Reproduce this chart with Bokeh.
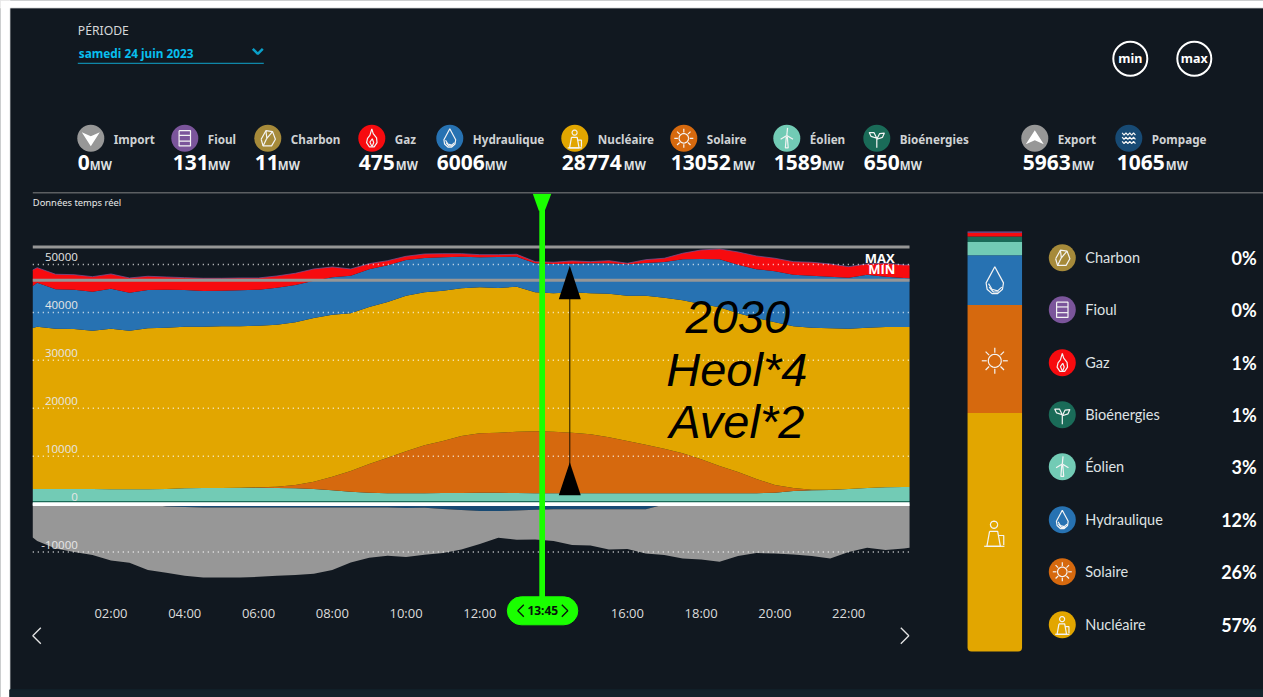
import math
import numpy as np
from bokeh.plotting import figure
from bokeh.models import Range1d, FixedTicker
from bokeh.core.properties import value
from bokeh.embed import file_html
from bokeh.resources import INLINE

# ---------- data (MW) ----------
hours = [-0.12, 0, 0.5, 1, 1.5, 2, 2.5, 3, 3.5, 4, 4.5, 5, 5.5, 6, 6.5, 7, 7.5, 8, 8.5, 9, 9.5, 10, 10.5, 11, 11.5,
         12, 12.5, 13, 13.5, 14, 14.5, 15, 15.5, 16, 16.5, 17, 17.5, 18, 18.5, 19, 19.5, 20, 20.5, 21, 21.5, 22,
         22.5, 23, 23.5, 23.65]
bio = [650] * 50
eolien = [2504, 2504, 2504, 2504, 2504, 2442, 2442, 2442, 2504, 2650, 2713, 2734, 2776, 2776, 2713, 2650, 2504, 2233,
          1941, 1732, 1607, 1607, 1607, 1670, 1670, 1732, 1711, 1670, 1607, 1607, 1607, 1607, 1607, 1607, 1607, 1607,
          1607, 1607, 1607, 1607, 1607, 1732, 2087, 2233, 2296, 2504, 2713, 2859, 2922, 2922]
solaire = [0, 0, 0, 0, 0, 0, 0, 0, 0, 0, 0, 0, 0, 83, 271, 689, 1524, 2838, 4320, 5990, 7430, 8765, 10018, 10852, 11896,
           12397, 12543, 12793, 12939, 12856, 12647, 12313, 11687, 10915, 10143, 9308, 8348, 7096, 5698, 4445, 2984,
           1607, 626, 125, 42, 0, 0, 0, 0, 0]
nucleaire = [33601, 33872, 33455, 33392, 33037, 33517, 33100, 33601, 33663, 33726, 33663, 33726, 33684, 33726, 33809,
             33955, 34164, 33809, 32912, 32766, 32495, 32474, 31931, 31368, 30825, 30470, 30199, 30262, 29009, 28884,
             29301, 29427, 29969, 30324, 31096, 31514, 31931, 32411, 33121, 33121, 33601, 33955, 33747, 33809, 33705,
             33455, 33455, 33455, 33392, 33392]
hydraulique = [8765, 9183, 8223, 8202, 8139, 8348, 7931, 7993, 7931, 7659, 7451, 7430, 7513, 7513, 7722, 7785, 7785,
               7805, 7847, 7868, 7659, 7451, 7158, 6971, 6595, 6261, 6470, 6261, 6052, 6115, 5969, 6261, 6344, 6553,
               6825, 7451, 8557, 9392, 10018, 10143, 10164, 10644, 10769, 10852, 10769, 10644, 11061, 10498, 10226, 10164]
gaz = [3339, 3131, 3131, 3131, 3131, 3068, 3068, 2859, 2650, 2567, 2650, 2588, 2567, 2442, 2442, 2442, 2442, 2150, 1398,
       1169, 960, 772, 835, 751, 626, 543, 480, 501, 334, 355, 563, 334, 543, 209, 689, 772, 1252, 1878, 2150, 2650,
       2776, 2713, 2713, 2797, 2650, 2296, 2233, 2797, 2713, 2776]
pompage = [0, 0, 0, 0, 0, 0, 0, 0, 500, 600, 700, 700, 700, 700, 700, 700, 700, 700, 700, 700, 700, 800, 770, 1040, 1250,
           1460, 1460, 1320, 1190, 1100, 1100, 1100, 1100, 1100, 1100, 100, 0, 0, 0, 0, 0, 0, 0, 0, 0, 0, 0, 0, 0, 0]
export = [6950, 7722, 9245, 10018, 10644, 11750, 12251, 13774, 13838, 14364, 14598, 14598, 14598, 14472, 14264, 14118,
          13846, 13074, 11467, 10507, 10090, 10261, 9811, 9186, 8204, 6888, 5573, 6131, 6177, 6622, 7457, 7519, 8354,
          8292, 9189, 10544, 11332, 11541, 12042, 10852, 10226, 10289, 10498, 10852, 11332, 10018, 9120, 9600, 9245, 9120]

x_ticks = [2, 4, 6, 8, 10, 12, 16, 18, 20, 22]
x_tick_labels = {t: f"{t:02d}:00" for t in x_ticks}
y_ticks = [50000, 40000, 30000, 20000, 10000, 0, -10000]
y_max_line = 53630
y_min_line = 46700
cursor_hour = 13.69

header_names = ["Import", "Fioul", "Charbon", "Gaz", "Hydraulique", "Nucléaire", "Solaire", "Éolien", "Bioénergies", "Export", "Pompage"]
header_values = [0, 131, 11, 475, 6006, 28774, 13052, 1589, 650, 5963, 1065]

mix_names = ["Nucléaire", "Solaire", "Hydraulique", "Éolien", "Bioénergies", "Gaz", "Fioul", "Charbon"]
mix_values = [28774, 13052, 6006, 1589, 650, 475, 131, 11]

legend_names = ["Charbon", "Fioul", "Gaz", "Bioénergies", "Éolien", "Hydraulique", "Solaire", "Nucléaire"]
legend_pct = ["0%", "0%", "1%", "1%", "3%", "12%", "26%", "57%"]

# ---------- style ----------
BG = "#111820"
COL = {"Import": "#979797", "Fioul": "#7b559b", "Charbon": "#a68a3a", "Gaz": "#f70b0f", "Hydraulique": "#2772b2",
       "Nucléaire": "#e2a600", "Solaire": "#d6690e", "Éolien": "#72cbb5", "Bioénergies": "#1a6b58",
       "Export": "#979797", "Pompage": "#174a74"}
GREEN = "#1aff00"
W, H = 1263, 697
HEAD_X = [91, 185, 268, 372, 450, 575, 684, 787, 877, 1035, 1129]
NUM_X = [78, 173, 255, 359, 437, 562, 671, 774, 864, 1023, 1117]
MW_X = [90, 208, 278, 396, 485, 624, 733, 822, 900, 1072, 1166]
LEG_Y = [258, 310, 363, 415, 467, 520, 572, 625]

# pixel <-> scale calibration
px_h, x0_px = 36.885, 36.7
px_mw, y0_px = 0.004792, 503.6
mix_px = 420 / sum(mix_values)
dx, dy = 0.7, 0.7

p = figure(width=W, height=H, output_backend="svg", toolbar_location=None, min_border=0,
           x_range=Range1d((0 - x0_px) / px_h, (W - x0_px) / px_h),
           y_range=Range1d((y0_px - H) / px_mw, y0_px / px_mw),
           y_axis_location=None, outline_line_color=None, background_fill_color=BG, border_fill_color=BG)
p.grid.visible = False
p.extra_x_ranges["px"] = Range1d(dx, W + dx)
p.extra_y_ranges["px"] = Range1d(H + dy, dy)
p.extra_y_ranges["mix"] = Range1d((651 - H) / mix_px, 651 / mix_px)
PX = dict(x_range_name="px", y_range_name="px")

# x axis, real, fixed inside the frame
ax = p.xaxis[0]
ax.fixed_location = (y0_px - 595) / px_mw
ax.ticker = FixedTicker(ticks=x_ticks)
ax.major_label_overrides = x_tick_labels
ax.axis_line_color = None
ax.major_tick_line_color = None
ax.minor_tick_line_color = None
ax.major_label_standoff = 2
ax.major_label_text_color = "#dcdcdc"
ax.major_label_text_font = "Open Sans"
ax.major_label_text_font_size = "13px"

# screenshot edges: white margin top/left, bottom band
p.quad(left=[0, 0], right=[W + 2, 10], top=[0, 0], bottom=[8, H + 2], color="#ffffff", **PX)
p.quad(left=[10], right=[W + 2], top=[690], bottom=[H + 2], color="#13232b", **PX)

# ---------- stacked areas ----------
base = np.zeros(len(hours))
for name, vals in [("Bioénergies", bio), ("Éolien", eolien), ("Solaire", solaire), ("Nucléaire", nucleaire),
                   ("Hydraulique", hydraulique), ("Gaz", gaz)]:
    top = base + np.array(vals, float)
    p.varea(x=hours, y1=base, y2=top, fill_color=COL[name])
    base = top
p.line(x=hours, y=base, line_color="#7b559b", line_width=1, line_alpha=0.7)
neg = -np.array(pompage, float)
p.varea(x=hours, y1=np.zeros(len(hours)), y2=neg, fill_color=COL["Pompage"])
p.varea(x=hours, y1=neg, y2=neg - np.array(export, float), fill_color=COL["Export"])

# grid of dotted lines
p.segment(x0=[hours[0]] * len(y_ticks), x1=[hours[-1]] * len(y_ticks), y0=y_ticks, y1=y_ticks,
          line_color="#ffffff", line_alpha=0.85, line_width=1.5, line_dash="1 4")
p.segment(x0=[hours[0]], x1=[hours[-1]], y0=[0], y1=[0], line_color="#ffffff", line_width=3.6)
p.segment(x0=[hours[0]] * 2, x1=[hours[-1]] * 2, y0=[y_max_line, y_min_line], y1=[y_max_line, y_min_line],
          line_color="#969696", line_width=3)
p.text(x=[78] * len(y_ticks), y=y_ticks, text=[str(t) for t in y_ticks], x_range_name="px",
       text_align="right", text_baseline="middle", y_offset=-7.5, text_color="#e6e6e6",
       text_font=value("Open Sans"), text_font_size="11.5px")
p.text(x=[880, 882], y=[258, 269.5], text=["MAX", "MIN"], text_align="center", text_baseline="middle",
       text_color="#ffffff", text_font=value("Open Sans"), text_font_size="13px", text_font_style="bold", **PX)

# black annotation
p.segment(x0=[570], x1=[570], y0=[280], y1=[480], line_color="#1a1200", line_width=1, **PX)
p.patches(xs=[[570, 581, 559], [570, 581, 559]], ys=[[266, 299.5, 299.5], [462.5, 495.5, 495.5]], fill_color="#000000",
          line_color=None, **PX)
p.text(x=[738, 737, 737], y=[317, 369.5, 421.5], text=["2030", "Heol*4", "Avel*2"], text_align="center",
       text_baseline="middle", text_color="#000000", text_font=value("Liberation Sans"),
       text_font_size="47px", text_font_style="italic", **PX)

# cursor
p.segment(x0=[cursor_hour], x1=[cursor_hour], y0=[(y0_px - 600) / px_mw], y1=[(y0_px - 196) / px_mw],
          line_color=GREEN, line_width=5.7)
p.patches(xs=[[533, 551.5, 545, 539]], ys=[[194, 194, 211, 211]], fill_color=GREEN, line_color=None, **PX)
p.quad(left=[507.5], right=[578], top=[597], bottom=[625], color=GREEN, border_radius=14, **PX)
p.text(x=[543], y=[611], text=["13:45"], text_align="center", text_baseline="middle", text_color="#07140a",
       text_font=value("Noto Sans"), text_font_size="12px", text_font_style="bold", **PX)

# ---------- icons ----------
def circ(cx, cy, r, n=24):
    t = np.linspace(0, 2 * math.pi, n + 1)
    return list(zip(cx + r * np.cos(t), cy + r * np.sin(t)))

ICONS = {
    "Hydraulique": [[(0, -1), (.35, -.35), (.62, .15), (.55, .6), (.2, .92), (-.2, .92), (-.55, .6), (-.62, .15), (-.35, -.35), (0, -1)],
                    [(-.45, .2), (-.2, .6), (.2, .72), (.5, .45)], [(-.4, .45), (-.1, .8), (.3, .8)]],
    "Gaz": [[(0, -1), (.15, -.5), (.5, -.05), (.55, .45), (.25, .9), (-.25, .9), (-.55, .45), (-.45, 0), (-.2, -.3), (0, -1)],
            [(0, .85), (-.2, .4), (.05, .05), (.2, .45), (.05, .85)]],
    "Solaire": [circ(0, 0, .5)] + [[(.62 * math.cos(a * math.pi / 4), .62 * math.sin(a * math.pi / 4)),
                                    (1.0 * math.cos(a * math.pi / 4), 1.0 * math.sin(a * math.pi / 4))] for a in range(8)],
    "Éolien": [[(-.05, -.2), (-.15, 1), (.15, 1), (.05, -.2)], [(0, -.3), (.08, -1.1)], [(0, -.3), (.65, .1)], [(0, -.3), (-.65, .1)]],
    "Bioénergies": [[(0, 1), (0, 0)], [(0, 0), (-.3, -.6), (-.8, -.6), (-.6, -.2), (0, 0)], [(0, .1), (.3, -.5), (.8, -.55), (.6, -.1), (0, .1)]],
    "Fioul": [[(-.6, -.8), (.6, -.8), (.6, .8), (-.6, .8), (-.6, -.8)], [(-.6, -.3), (.6, -.3)], [(-.6, .3), (.6, .3)]],
    "Charbon": [[(-.7, .1), (-.2, -.8), (.5, -.7), (.8, .1), (.4, .8), (-.5, .8), (-.7, .1)], [(-.2, -.8), (-.1, 0), (.5, -.7)], [(-.1, 0), (-.5, .8)]],
    "Nucléaire": [[(-.35, -.1), (.25, -.1), (.45, 1), (-.55, 1), (-.35, -.1)], [(-.75, 1), (.75, 1)], [(.3, .2), (.7, .2), (.7, .9)], circ(-.02, -.6, .27, 12)],
    "Pompage": [[(-.7 + .2 * i, y + (.12 if i % 2 else -.12)) for i in range(8)] for y in (-.45, 0, .45)],
}
ix, iy = [], []
def add_icon(name, cx, cy, s):
    for path in ICONS.get(name, []):
        ix.append([cx + s * a for a, _ in path])
        iy.append([cy + s * b for _, b in path])

# header
p.scatter(x=HEAD_X, y=[138.5] * len(HEAD_X), size=27, marker="circle", fill_color=[COL[n] for n in header_names], line_color=None, **PX)
for n, cx in zip(header_names, HEAD_X):
    add_icon(n, cx, 138.5, 9.5)
for cx, sgn in [(HEAD_X[0], 1), (HEAD_X[9], -1)]:
    p.patches(xs=[[cx - 9, cx, cx + 9, cx]], ys=[[138.5 - 6 * sgn, 138.5 - 2 * sgn, 138.5 - 6 * sgn, 138.5 + 8 * sgn]],
              fill_color="#ffffff", line_color=None, **PX)
p.text(x=[c + 23 for c in HEAD_X], y=[139] * len(HEAD_X), text=header_names, text_baseline="middle", text_color="#cfd2d4",
       text_font=value("Noto Sans"), text_font_size="11.7px", text_font_style="bold", **PX)
p.text(x=NUM_X, y=[162.5] * len(NUM_X), text=[str(v) for v in header_values], text_baseline="middle", text_color="#ffffff",
       text_font=value("Noto Sans"), text_font_size="21px", text_font_style="bold", **PX)
p.text(x=MW_X, y=[166] * len(MW_X), text=["MW"] * len(MW_X), text_baseline="middle", text_color="#dfe1e3",
       text_font=value("Noto Sans"), text_font_size="11.5px", text_font_style="bold", **PX)

# period selector & buttons
p.text(x=[78], y=[31], text=["PÉRIODE"], text_baseline="middle", text_color="#d6d8da", text_font=value("Noto Sans"),
       text_font_size="12.2px", **PX)
p.text(x=[79], y=[53], text=["samedi 24 juin 2023"], text_baseline="middle", text_color="#08bfee", text_font=value("Noto Sans"),
       text_font_size="11.8px", text_font_style="bold", **PX)
p.segment(x0=[78], x1=[264], y0=[63.5], y1=[63.5], line_color="#0fa4cc", line_width=1, **PX)
p.multi_line(xs=[[253, 258, 263]], ys=[[49, 54, 49]], line_color="#0a9fc8", line_width=2.5, **PX)
p.scatter(x=[1130.5, 1194.5], y=[59, 59], size=34, marker="circle", fill_color=None, line_color="#ffffff", line_width=2, **PX)
p.text(x=[1130.5, 1194.5], y=[59, 59], text=["min", "max"], text_align="center", text_baseline="middle", text_color="#ffffff",
       text_font=value("Noto Sans"), text_font_size="12.5px", text_font_style="bold", **PX)
p.segment(x0=[33], x1=[W + 2], y0=[193], y1=[193], line_color="#5c5f62", line_width=1.5, **PX)
p.text(x=[33], y=[203], text=["Données temps réel"], text_baseline="middle", text_color="#e8e8e8", text_font=value("Noto Sans"),
       text_font_size="9.4px", **PX)

# ---------- mix bar ----------
bot = np.cumsum([0] + mix_values[:-1])
tops = bot + np.array(mix_values)
for i, n in enumerate(mix_names):
    p.vbar(x=[995], width=54.5, bottom=[bot[i]], top=[tops[i]], fill_color=COL[n], line_color=None,
           border_radius=(0, 0, 4, 4) if i == 0 else 0, x_range_name="px", y_range_name="mix")
add_icon("Hydraulique", 995, 281, 14)
add_icon("Solaire", 995, 361, 13)
add_icon("Nucléaire", 994.5, 533, 13.5)

# ---------- right legend ----------
p.scatter(x=[1062.5] * 8, y=LEG_Y, size=27, marker="circle", fill_color=[COL[n] for n in legend_names], line_color=None, **PX)
for n, cy in zip(legend_names, LEG_Y):
    add_icon(n, 1062.5, cy, 9.5)
p.text(x=[1085.5] * 8, y=LEG_Y, text=legend_names, text_baseline="middle", text_color="#dfe2e4", text_font=value("Lato"),
       text_font_size="14.5px", **PX)
p.text(x=[1257] * 8, y=LEG_Y, text=legend_pct, text_align="right", text_baseline="middle", text_color="#ffffff",
       text_font=value("Lato"), text_font_size="18px", text_font_style="bold", **PX)

p.multi_line(xs=ix, ys=iy, line_color="#f4f4f4", line_width=1.2, **PX)
p.multi_line(xs=[[41, 33, 41], [901, 909, 901], [524, 518, 524], [562, 568, 562]],
             ys=[[628, 636, 644], [628, 636, 644], [605, 611, 617], [605, 611, 617]],
             line_color=["#e4e4e4", "#e4e4e4", "#07140a", "#07140a"], line_width=1.3, **PX)

html = file_html(p, INLINE)
css = "<style>html,body{margin:0!important;padding:0!important;overflow:hidden;}</style>"
html = html.replace("</head>", css + "</head>", 1)
open("out.html", "w").write(html)
